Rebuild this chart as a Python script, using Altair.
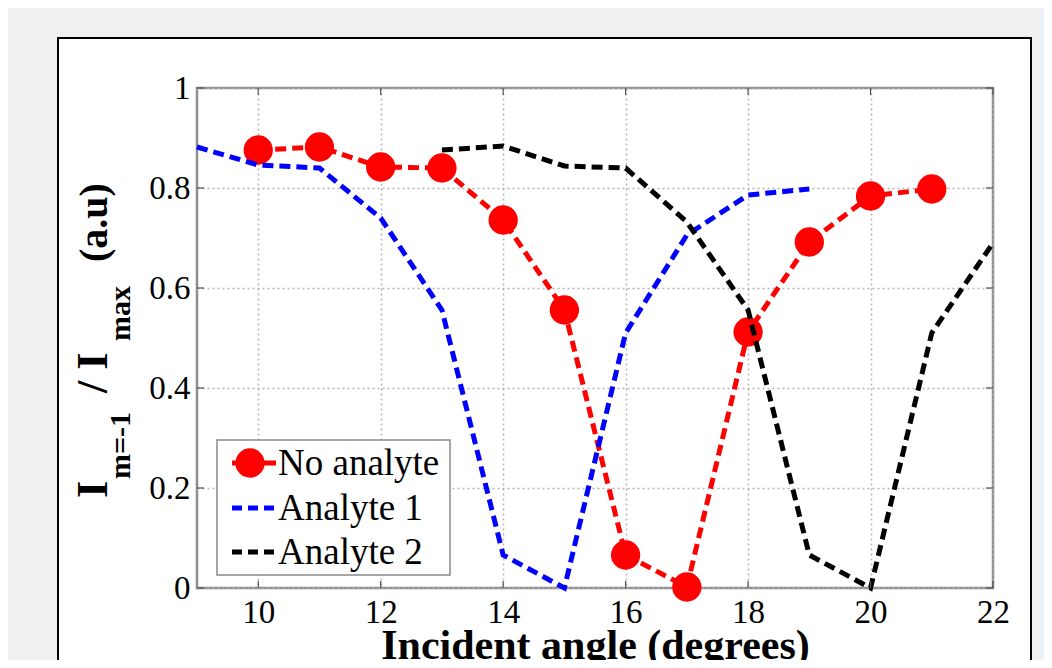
import altair as alt
import pandas as pd

# ---- data ----
angles_no = [10, 11, 12, 13, 14, 15, 16, 17, 18, 19, 20, 21]
vals_no = [0.876, 0.882, 0.842, 0.840, 0.736, 0.556, 0.066, 0.002, 0.512, 0.692, 0.784, 0.798]
angles_a1 = [9, 10, 11, 12, 13, 14, 15, 16, 17, 18, 19]
vals_a1 = [0.882, 0.846, 0.840, 0.740, 0.556, 0.066, 0.0, 0.510, 0.706, 0.786, 0.798]
angles_a2 = [13, 14, 15, 16, 17, 18, 19, 20, 21, 22]
vals_a2 = [0.876, 0.884, 0.844, 0.840, 0.732, 0.556, 0.066, 0.0, 0.510, 0.690]
series_names = ["No analyte", "Analyte 1", "Analyte 2"]
series_colors = ["#ff0000", "#0000ff", "#000000"]
x_ticks = [10, 12, 14, 16, 18, 20, 22]
y_ticks = [0, 0.2, 0.4, 0.6, 0.8, 1.0]
x_title = "Incident angle (degrees)"

SERIF = "Liberation Serif"
W, H = 796, 500

rows = []
for name, xs, ys in zip(series_names, [angles_no, angles_a1, angles_a2], [vals_no, vals_a1, vals_a2]):
    for a, v in zip(xs, ys):
        rows.append({"series": name, "angle": a, "value": v})
df = pd.DataFrame(rows)

xscale = alt.Scale(domain=[9, 22], nice=False, zero=False)
yscale = alt.Scale(domain=[0, 1], nice=False, zero=False)
cscale = alt.Scale(domain=series_names, range=series_colors)

x_axis = alt.Axis(values=x_ticks, grid=True, gridDash=[2, 3], gridColor="#b4b4b4", gridWidth=1.5,
                  ticks=False, domain=False, labelFont=SERIF, labelFontSize=33, labelColor="black",
                  labelPadding=8, labelFlush=False, title=x_title, titleFont=SERIF, titleFontSize=42,
                  titleFontWeight="bold", titleColor="black", titleBaseline="alphabetic", titleY=70)
y_axis = alt.Axis(values=y_ticks, format="~g", grid=True, gridDash=[2, 3], gridColor="#b4b4b4",
                  gridWidth=1.5, ticks=False, domain=False, labelFont=SERIF, labelFontSize=33,
                  labelColor="black", labelPadding=7, labelFlush=False, title="")

X = alt.X("angle:Q", scale=xscale, axis=x_axis)
Y = alt.Y("value:Q", scale=yscale, axis=y_axis)
C = alt.Color("series:N", scale=cscale, legend=None)

one = pd.DataFrame({"a": [0]})


def rect(x, x2, y, y2, fill, stroke=None, sw=0):
    kw = dict(fill=fill)
    if stroke:
        kw.update(stroke=stroke, strokeWidth=sw)
    return alt.Chart(one).mark_rect(**kw).encode(
        x=alt.value(x), x2=alt.value(x2), y=alt.value(y), y2=alt.value(y2))


OX, OY = 197, 88  # absolute origin of the plot area
# outer frame (gray page with white figure box)
bg = [
    rect(-OX, 855, -OY, 38 - OY, "#f0f0f0"),
    rect(-OX, 58 - OX, -OY, 700, "#f0f0f0"),
    rect(1031 - OX, 855, -OY, 700, "#f0f0f0"),
    rect(1039 - OX, 855, -OY, 700, "#edf1f9"),
    rect(58 - OX, 1031 - OX, 38 - OY, 720, "transparent", "black", 2),
]

base = alt.Chart(df)
LW = 5
red_line = base.transform_filter(alt.datum.series == "No analyte").mark_line(
    strokeDash=[11, 6], strokeWidth=LW).encode(x=X, y=Y, color=C)
red_pts = base.transform_filter(alt.datum.series == "No analyte").mark_point(
    filled=True, size=860, opacity=1, shape="circle").encode(x=X, y=Y, color=C)
blue_line = base.transform_filter(alt.datum.series == "Analyte 1").mark_line(
    strokeDash=[11, 6], strokeWidth=LW).encode(x=X, y=Y, color=C)
black_line = base.transform_filter(alt.datum.series == "Analyte 2").mark_line(
    strokeDash=[11, 6], strokeWidth=LW).encode(x=X, y=Y, color=C)

# inward ticks (MATLAB box style)
xt = pd.DataFrame({"angle": x_ticks})
yt = pd.DataFrame({"value": y_ticks})
tick_col = "#505050"
ticks = [
    alt.Chart(xt).mark_rule(color=tick_col, strokeWidth=1.2).encode(
        x=X, y=alt.value(H), y2=alt.value(H - 7)),
    alt.Chart(xt).mark_rule(color=tick_col, strokeWidth=1.2).encode(
        x=X, y=alt.value(0), y2=alt.value(7)),
    alt.Chart(yt).mark_rule(color=tick_col, strokeWidth=1.2).encode(
        y=Y, x=alt.value(0), x2=alt.value(7)),
    alt.Chart(yt).mark_rule(color=tick_col, strokeWidth=1.2).encode(
        y=Y, x=alt.value(W - 7), x2=alt.value(W)),
]


def txt(s, x, y, size, weight="bold", angle=270, align="left", baseline="alphabetic"):
    return alt.Chart(one).mark_text(text=s, font=SERIF, fontSize=size, fontWeight=weight,
                                    angle=angle, align=align, baseline=baseline, color="black").encode(
        x=alt.value(x), y=alt.value(y))


# y title: I_{m=-1} / I_{max}  (a.u)
ytitle = [
    txt("I", 107 - OX, 498 - OY, 44),
    txt("m=-1", 130 - OX, 479 - OY, 30),
    txt("/ I", 107 - OX, 393 - OY, 44),
    txt("max", 130 - OX, 341 - OY, 30),
    txt("(a.u)", 107 - OX, 262 - OY, 40),
]

# legend
lx0, ly0 = 217 - OX, 440 - OY
legend = [
    rect(lx0, 450 - OX, ly0, 575 - OY, "white", "#8a8a8a", 1.5),
    alt.Chart(one).mark_rule(color="#ff0000", strokeWidth=LW).encode(
        x=alt.value(232 - OX), x2=alt.value(276 - OX), y=alt.value(463 - OY)),
    alt.Chart(one).mark_point(filled=True, size=860, opacity=1, shape="circle", color="#ff0000").encode(
        x=alt.value(250 - OX), y=alt.value(463 - OY)),
    alt.Chart(one).mark_rule(color="#0000ff", strokeWidth=LW, strokeDash=[10, 6]).encode(
        x=alt.value(232 - OX), x2=alt.value(276 - OX), y=alt.value(508 - OY)),
    alt.Chart(one).mark_rule(color="#000000", strokeWidth=LW, strokeDash=[10, 6]).encode(
        x=alt.value(232 - OX), x2=alt.value(276 - OX), y=alt.value(552 - OY)),
    txt(series_names[0], 278 - OX, 464 - OY, 37, weight="normal", angle=0, baseline="middle"),
    txt(series_names[1], 278 - OX, 509 - OY, 37, weight="normal", angle=0, baseline="middle"),
    txt(series_names[2], 278 - OX, 553 - OY, 37, weight="normal", angle=0, baseline="middle"),
]

chart = alt.layer(
    red_line, *bg, red_pts, blue_line, black_line, *ticks, *ytitle, *legend
).properties(
    width=W, height=H,
    autosize=alt.AutoSizeParams(type="none"),
    padding={"left": 189, "top": 80, "right": 51, "bottom": 72},
    background="white",
).configure_view(stroke="#8f8f8f", strokeWidth=2.5)

chart.save("out.html", embed_options={"renderer": "svg", "actions": False})
